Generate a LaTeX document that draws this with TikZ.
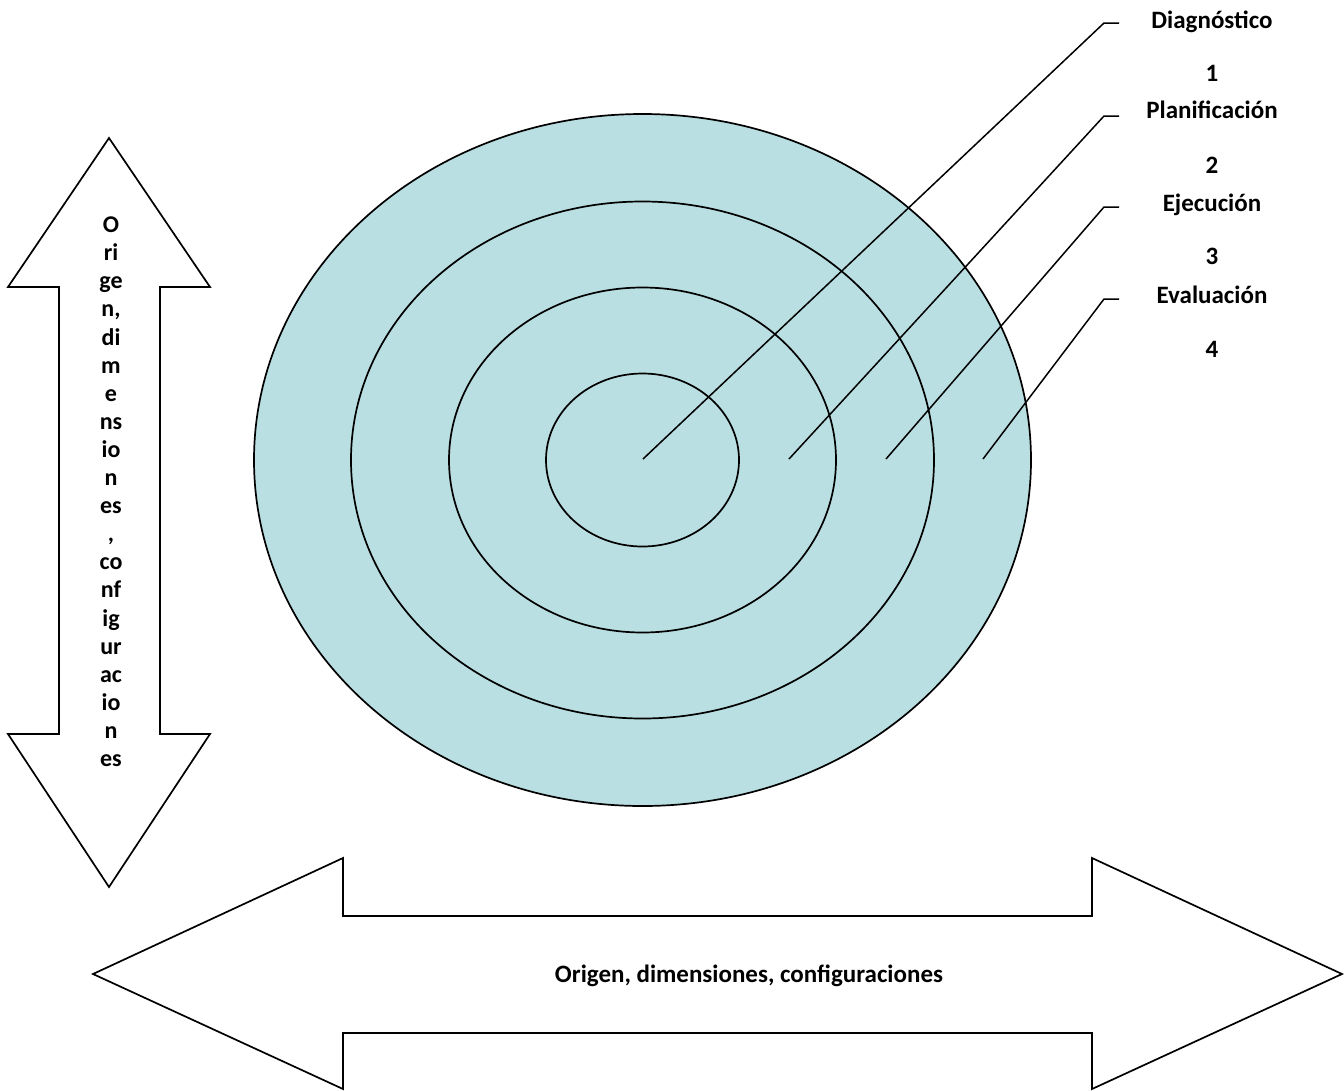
\documentclass[tikz,border=0pt]{standalone}
\usepackage{fontspec}
\setmainfont{Carlito}
\definecolor{ringfill}{RGB}{185,223,227}
\begin{document}
\begin{tikzpicture}[x=1pt,y=-1pt,line width=1.7pt,line join=miter,
  lbl/.style={font=\bfseries\fontsize{25}{30}\selectfont,inner sep=0pt,anchor=base},
  ring/.style={draw=black,fill=ringfill},
  callout/.style={draw=black,line width=1.5pt},
  bigarrow/.style={draw=black,fill=white}]
\useasboundingbox (0,0) rectangle (1344,1090);
% rings
\path[ring] (642.5,460) ellipse [x radius=388.5pt, y radius=346pt];
\path[ring] (642.5,460) ellipse [x radius=291.5pt, y radius=258.5pt];
\path[ring] (642.5,460) ellipse [x radius=193.5pt, y radius=172.5pt];
\path[ring] (642.5,460) ellipse [x radius=96.5pt, y radius=86.5pt];
% callout points
\coordinate (s1) at (643,459);
\coordinate (s2) at (789,459);
\coordinate (s3) at (886,459);
\coordinate (s4) at (983,459);
\coordinate (e1) at (1104,23);
\coordinate (e2) at (1104,116);
\coordinate (e3) at (1104,207);
\coordinate (e4) at (1104,299);
\coordinate (t1) at (1119,23);
\coordinate (t2) at (1119,116);
\coordinate (t3) at (1119,207);
\coordinate (t4) at (1119,299);
\draw[callout] (s1) -- (e1) -- (t1);
\draw[callout] (s2) -- (e2) -- (t2);
\draw[callout] (s3) -- (e3) -- (t3);
\draw[callout] (s4) -- (e4) -- (t4);
% labels
\node[lbl] (l1) at (1212,28) {Diagnóstico};
\node[lbl] (n1) at (1212,81) {1};
\node[lbl] (l2) at (1212,118) {Planificación};
\node[lbl] (n2) at (1212,173) {2};
\node[lbl] (l3) at (1212,211) {Ejecución};
\node[lbl] (n3) at (1212,264) {3};
\node[lbl] (l4) at (1212,303) {Evaluación};
\node[lbl] (n4) at (1212,357) {4};
% vertical double arrow
\path[bigarrow] (109,138) -- (210,287) -- (160,287) -- (160,734) -- (210,734)
  -- (109,887) -- (8,734) -- (59,734) -- (59,287) -- (8,287) -- cycle;
\node[font=\bfseries\fontsize{24}{28.1}\selectfont,align=center,inner sep=0pt,anchor=north] (vtext) at (111,216)
  {O\\ri\\ge\\n,\\di\\m\\e\\ns\\io\\n\\es\\,\\co\\nf\\ig\\ur\\ac\\io\\n\\es};
% horizontal double arrow
\path[bigarrow] (93,974) -- (343,858) -- (343,916) -- (1092,916) -- (1092,858)
  -- (1342,974) -- (1092,1089) -- (1092,1033) -- (343,1033) -- (343,1089) -- cycle;
\node[lbl,anchor=center] (htext) at (749,976) {Origen, dimensiones, configuraciones};
\end{tikzpicture}
\end{document}
